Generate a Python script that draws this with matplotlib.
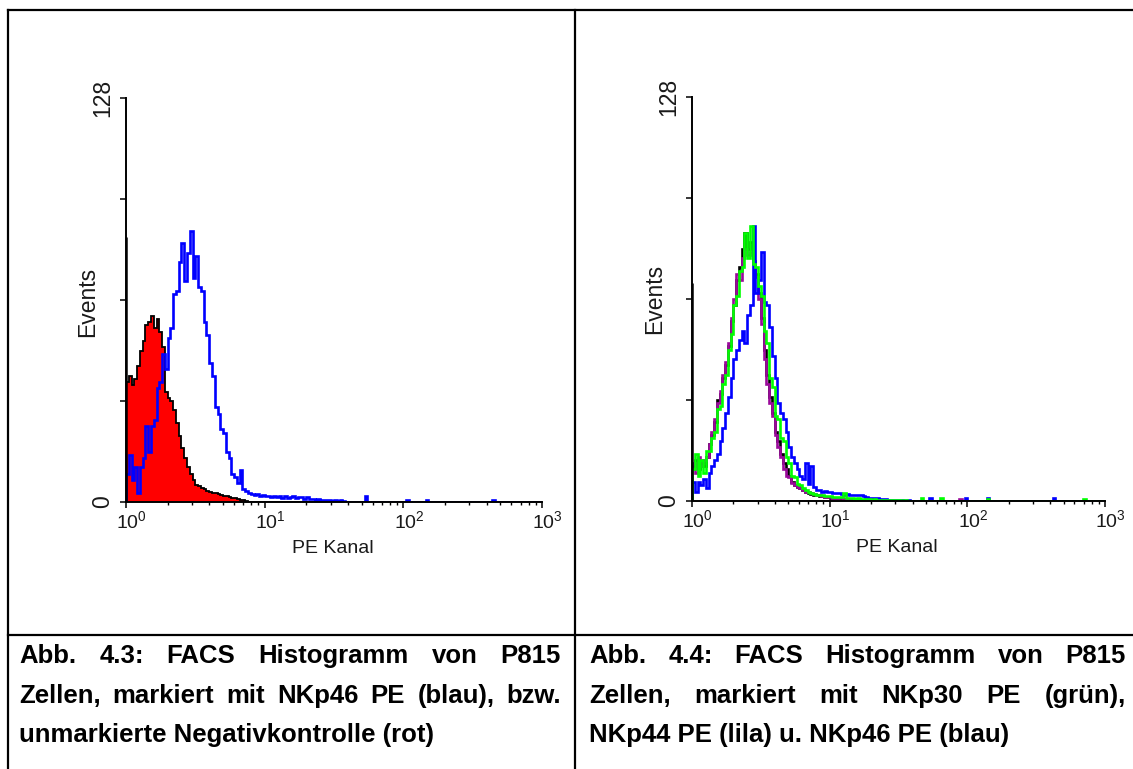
import numpy as np
import matplotlib
matplotlib.use("Agg")
import matplotlib.pyplot as plt
from matplotlib import font_manager as fm
from matplotlib.lines import Line2D
from matplotlib.ticker import FixedLocator, LogLocator, NullFormatter
import matplotlib.transforms as mtransforms

_names = {f.name for f in fm.fontManager.ttflist}
NARROW = 'Liberation Sans Narrow' if 'Liberation Sans Narrow' in _names else 'Liberation Sans'
HAS_NARROW = NARROW == 'Liberation Sans Narrow'
REG = 'Liberation Sans'

plt.rcParams['font.family'] = [NARROW, 'DejaVu Sans']
plt.rcParams['mathtext.fontset'] = 'custom'
plt.rcParams['mathtext.rm'] = NARROW
plt.rcParams['mathtext.it'] = NARROW

# ---------------- data (counts per log channel, 50 channels / decade, 10^0 .. 10^3) ----------
BINS_PER_DECADE = 50

# Left panel: negative control (red, filled) and NKp46 PE (blue)
ctrl_first_channel = 84
ctrl_main = [38, 40, 37, 39, 43, 48, 51, 56, 57, 59, 55, 58, 54, 49, 35, 33, 32, 29, 25, 21,
             17, 14, 11, 9, 7, 5.5, 5, 4.5, 4, 3.5, 3.2, 3, 2.8, 2.5, 2.2, 2, 1.8, 1.6, 1.4, 1.2,
             1, 0.7, 0.5, 0.3] + [0] * 36
ctrl_tail = [0] * 70

nkp46_left_main = [9, 15, 7, 11, 3, 11, 14, 24, 16, 24, 26, 36, 38, 47, 42, 52, 55, 66, 67, 76,
                   82, 70, 79, 86, 71, 78, 68, 67, 57, 53, 44, 40, 30, 28, 23, 22, 16, 14, 9, 8,
                   6, 10, 4, 3.5, 3, 2.5, 2.2, 2.5, 2, 2.2, 1.8, 2, 1.5, 1.8, 1.6, 1.8, 1.4, 1.8, 1.2, 1.6,
                   1.8, 1.2, 1.5, 1.6, 1.0, 1.6, 0.8, 1.0, 0.6, 0.8, 0.7, 0.5, 0.7, 0.5, 0.3, 0.7, 0.4, 0.6, 0.3, 0]
nkp46_left_tail = [0] * 6 + [1.8] + [0] * 14 + [0.7] + [0] * 6 + [0.7] + [0] * 23 + [0.7] + [0] * 17

# Right panel: NKp30 (green), NKp44 (lila), NKp46 (blue), control (black, mostly hidden)
black_first_channel = 69
black_main = [11, 13, 10, 12, 11, 14, 18, 21, 25, 32, 34, 39, 43, 49, 57, 62, 70, 74, 80, 85,
              80, 82, 76, 72, 66, 58, 48, 40, 33, 28, 22, 19, 15, 12, 10, 8, 6, 5, 4.5, 4,
              3.5, 3, 2.6, 2.3, 2, 1.8, 1.6, 1.5, 1.3, 1.2, 1.1, 1, 0.9, 0.8, 0.7, 0.6, 0.6, 0.5, 0.4, 0.4,
              0.3, 0.3, 0.2, 0.2, 0.2, 0.1, 0.1, 0.1, 0, 0] + [0] * 10
black_tail = [0] * 70

nkp30_main = [10, 15, 8, 13, 9, 16, 16, 20, 22, 29, 30, 37, 40, 48, 53, 62, 65, 73, 74, 85,
              77, 87, 75, 74, 68, 65, 54, 50, 39, 36, 27, 26, 20, 19, 14, 12, 8, 7.5, 5.5, 5,
              4, 3.5, 3, 2.4, 2.2, 2, 1.9, 1.8, 1.6, 1.5, 1.5, 1.4, 1.4, 1.3, 1.2, 2.4, 0.8, 0.9, 0.8, 0.7,
              0.8, 0.6, 0.5, 0.6, 0.5, 0.4, 0.5, 0.3, 0.4, 0.3, 0.3, 0.2, 0.3, 0.2, 0.2, 0.2, 0.1, 0.2, 0.1, 0.1]
nkp30_tail = [0] * 3 + [1] + [0] * 6 + [1] + [0] * 16 + [0.7] + [0] * 34 + [0.7] + [0] * 7

nkp44_main = [12, 9, 14, 11, 13, 14, 18, 22, 26, 31, 35, 40, 44, 50, 58, 64, 72, 70, 77, 80,
              78, 79, 75, 71, 64, 56, 45, 37, 31, 27, 21, 17, 14, 10, 8, 7.7, 5.6, 5, 4.5, 4,
              3.5, 3, 2.8, 2.5, 2.2, 2, 1.8, 1.6, 1.4, 1.2, 1.2, 1.1, 1.0, 0.9, 0.8, 0.6, 0.7, 0.5, 0.6, 0.4,
              0.5, 0.4, 0.3, 0.3, 0.2, 0.3, 0.2, 0.2, 0.1, 0.2, 0.1, 0.1, 0, 0.1, 0, 0, 0, 0, 0, 0]
nkp44_tail = [0] * 17 + [0.6] + [0] * 52

nkp46_right_main = [6, 3, 6, 5, 7, 4, 9, 11, 13, 15, 19, 23, 28, 33, 39, 45, 48, 51, 54, 50,
                    59, 62, 87, 66, 70, 79, 63, 62, 55, 46, 39, 31, 28, 26, 22, 17, 14, 12, 10, 8,
                    7, 12, 5.5, 11, 4.5, 3.5, 3.5, 3, 3.2, 3, 2.8, 2.6, 2.4, 2.5, 2.2, 2, 2.2, 2, 2, 2,
                    1.8, 2, 1.5, 1.2, 1, 0.9, 0.8, 0.8, 0.6, 0.5, 0.6, 0.4, 0.3, 0.4, 0.2, 0.3, 0.2, 0.1, 0.2, 0.1]
nkp46_right_tail = [0] * 6 + [0.8] + [0] * 12 + [0.8] + [0] * 7 + [0.8] + [0] * 23 + [0.8] + [0] * 18

y_ticks = [0, 32, 64, 96, 128]
y_tick_labels = ['0', '', '', '', '128']
x_major = [1, 10, 100, 1000]

captions_left = ["Abb. 4.3: FACS Histogramm von P815",
                 "Zellen, markiert mit NKp46 PE (blau), bzw.",
                 "unmarkierte Negativkontrolle (rot)"]
captions_right = ["Abb. 4.4: FACS Histogramm von P815",
                  "Zellen, markiert mit NKp30 PE (grün),",
                  "NKp44 PE (lila) u. NKp46 PE (blau)"]

# ---------------- figure ----------------
W, H = 1133, 769
DPI = 100
fig = plt.figure(figsize=(W / DPI, H / DPI), dpi=DPI)
fig.patch.set_facecolor('white')


def fx(px):
    return px / W


def fy(py):
    return 1 - py / H


def series(main, tail):
    v = np.asarray(main + tail, dtype=float)
    edges = 10 ** (np.arange(len(v) + 1) / BINS_PER_DECADE)
    return v, edges


LABEL_COLOR = '#1a1a1a'
HFS = 16.5 if HAS_NARROW else 14     # horizontal axis texts
VFS = 16.5                            # rotated axis texts (regular width font)


def style_axes(ax):
    ax.set_xscale('log')
    ax.set_xlim(1, 1000)
    ax.set_ylim(0, 128)
    for s in ('top', 'right'):
        ax.spines[s].set_visible(False)
    for s in ('left', 'bottom'):
        ax.spines[s].set_linewidth(1.4)
        ax.spines[s].set_color('black')
        ax.spines[s].set_zorder(5)
    ax.set_yticks(y_ticks)
    ax.set_yticklabels(y_tick_labels, rotation=90, va='center', fontsize=VFS,
                       color=LABEL_COLOR, fontfamily=REG)
    ax.xaxis.set_major_locator(FixedLocator(x_major))
    ax.xaxis.set_minor_locator(LogLocator(base=10, subs=np.arange(2, 10)))
    ax.xaxis.set_minor_formatter(NullFormatter())
    ax.tick_params(axis='y', direction='out', length=4.5, width=1.1, pad=4)
    ax.tick_params(axis='x', which='major', direction='out', length=4, width=1.1, pad=2,
                   labelsize=HFS, labelcolor=LABEL_COLOR)
    ax.tick_params(axis='x', which='minor', direction='out', length=2.5, width=1.0)
    offset = mtransforms.ScaledTranslation(4 / 72, 0, fig.dpi_scale_trans)
    for lab in ax.get_xticklabels():
        lab.set_transform(lab.get_transform() + offset)
    ax.set_facecolor('none')


LW = 1.9

# Left panel
axL = fig.add_axes([fx(126), fy(502), 416 / W, 404 / H])
v, e = series(ctrl_main, ctrl_tail)
axL.stairs(v, e, fill=True, color='#ff0000', lw=0)
axL.stairs(v, e, color='black', lw=1.3)
axL.vlines(1.0, 0, ctrl_first_channel, color='black', lw=1.8)
v, e = series(nkp46_left_main, nkp46_left_tail)
axL.stairs(v, e, color='#0000ff', lw=LW)
style_axes(axL)
axL.set_ylabel('Events', fontsize=VFS, color=LABEL_COLOR, fontfamily=REG)
axL.yaxis.set_label_coords(-0.0913, 0.495)
axL.yaxis.label.set_verticalalignment('center')
axL.set_xlabel('PE Kanal', fontsize=HFS, color=LABEL_COLOR)
axL.xaxis.set_label_coords(0.4976, -0.1139)
axL.xaxis.label.set_verticalalignment('center')

# Right panel
axR = fig.add_axes([fx(692), fy(501), 413 / W, 404 / H])
v, e = series(black_main, black_tail)
axR.stairs(v, e, color='black', lw=LW)
axR.vlines(1.0, 0, black_first_channel, color='black', lw=1.8)
v, e = series(nkp44_main, nkp44_tail)
axR.stairs(v, e, color='#9a0a9a', lw=LW)
v, e = series(nkp46_right_main, nkp46_right_tail)
axR.stairs(v, e, color='#0000ff', lw=LW)
v, e = series(nkp30_main, nkp30_tail)
axR.stairs(v, e, color='#00ff00', lw=LW)
style_axes(axR)
axR.set_ylabel('Events', fontsize=VFS, color=LABEL_COLOR, fontfamily=REG)
axR.yaxis.set_label_coords(-0.0896, 0.5)
axR.yaxis.label.set_verticalalignment('center')
axR.set_xlabel('PE Kanal', fontsize=HFS, color=LABEL_COLOR)
axR.xaxis.set_label_coords(0.496, -0.114)
axR.xaxis.label.set_verticalalignment('center')

# ---------------- table frame ----------------
TLW = 1.6
frame = [((8, 8), (10, H)), ((8, W), (10, 10)), ((575, 575), (10, H)), ((8, W), (635, 635))]
for xs, ys in frame:
    fig.add_artist(Line2D([fx(xs[0]), fx(xs[1])], [fy(ys[0]), fy(ys[1])],
                          transform=fig.transFigure, color='black', lw=TLW))

# ---------------- justified captions ----------------
CAP_FS = 18.5
renderer = fig.canvas.get_renderer()
baselines = [663, 703, 742]


def draw_caption(lines, x_left, x_right):
    for k, (line, yb) in enumerate(zip(lines, baselines)):
        kw = dict(fontsize=CAP_FS, fontweight='bold', color='black', ha='left', va='baseline',
                  fontfamily=REG)
        if k == len(lines) - 1:
            fig.text(fx(x_left), fy(yb), line, **kw)
            continue
        words = line.split(' ')
        texts = [fig.text(0, 0, w, **kw) for w in words]
        widths = [t.get_window_extent(renderer).width for t in texts]
        gap = (x_right - x_left - sum(widths)) / (len(words) - 1)
        x = x_left
        for t, wd in zip(texts, widths):
            t.set_position((fx(x), fy(yb)))
            x += wd + gap


draw_caption(captions_left, 19, 561)
draw_caption(captions_right, 589, 1126)

fig.savefig('out.png', dpi=DPI, facecolor='white')
